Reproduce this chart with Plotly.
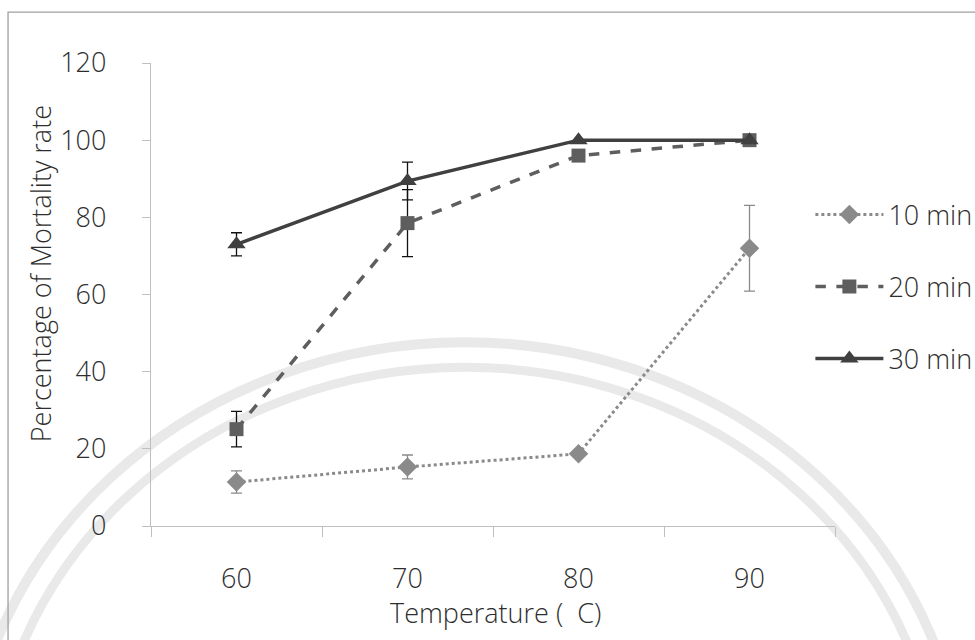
import plotly.graph_objects as go

# Heat treatment: mortality (%) by temperature for three exposure times
temperatures = ["60", "70", "80", "90"]

mort_10 = [11.4, 15.3, 18.7, 72.0]
err_10 = [2.9, 3.1, 0.0, 11.1]

mort_20 = [25.1, 78.5, 96.0, 100.0]
err_20 = [4.6, 8.7, 0.0, 0.0]

mort_30 = [73.0, 89.4, 100.0, 100.0]
err_30 = [3.0, 4.9, 0.0, 0.0]

series_names = ["10 min", "20 min", "30 min"]
y_ticks = [0, 20, 40, 60, 80, 100, 120]

FONT = "Open Sans, Noto Sans, sans-serif"
TEXT = "#2e2e2e"
AXIS = "#bfbfbf"

fig = go.Figure()

fig.add_trace(go.Scatter(
    x=temperatures, y=mort_10, name=series_names[0], legendgroup="a",
    mode="lines+markers",
    line=dict(color="#8a8a8a", width=3, dash="dot"),
    marker=dict(symbol="diamond", size=15, color="#8a8a8a"),
    error_y=dict(type="data", array=err_10, visible=True,
                 color="#8a8a8a", thickness=1.3, width=5.5),
))
fig.add_trace(go.Scatter(
    x=temperatures, y=mort_20, name=series_names[1], legendgroup="b",
    mode="lines+markers",
    line=dict(color="#5e5e5e", width=3.5, dash="dash"),
    marker=dict(symbol="square", size=14, color="#5e5e5e"),
    error_y=dict(type="data", array=err_20, visible=True,
                 color="#111111", thickness=1.3, width=5.5),
))
fig.add_trace(go.Scatter(
    x=temperatures, y=mort_30, name=series_names[2], legendgroup="c",
    mode="lines+markers",
    line=dict(color="#404040", width=3.5),
    marker=dict(symbol="triangle-up", size=16, color="#404040"),
    error_y=dict(type="data", array=err_30, visible=True,
                 color="#111111", thickness=1.3, width=5.5),
))

# faint seal arcs behind the plot
shapes = [
    dict(type="circle", xref="paper", yref="paper", layer="below",
         x0=-0.272, x1=1.190, y0=-1.590, y1=0.397,
         line=dict(color="#e9e9e9", width=10)),
    dict(type="circle", xref="paper", yref="paper", layer="below",
         x0=-0.235, x1=1.154, y0=-1.536, y1=0.343,
         line=dict(color="#e9e9e9", width=9)),
    # chart frame
    dict(type="rect", xref="paper", yref="paper", layer="below",
         x0=-0.209, x1=1.5, y0=-0.5, y1=1.110,
         line=dict(color="#a0a0a0", width=1.3)),
]

fig.update_layout(
    width=975, height=640,
    margin=dict(l=151, r=140, t=63, b=114, autoexpand=False),
    paper_bgcolor="white", plot_bgcolor="rgba(0,0,0,0)",
    font=dict(family=FONT, size=27, color=TEXT, weight=300),
    showlegend=True,
    legend=dict(x=0.964, y=0.725, xanchor="left", yanchor="top",
                bgcolor="rgba(0,0,0,0)", traceorder="grouped",
                itemwidth=68,
                tracegroupgap=34, font=dict(size=27, color=TEXT, weight=300)),
    shapes=shapes,
    annotations=[
        dict(text="Percentage of Mortality rate", xref="paper", yref="paper",
             x=-0.1623, y=0.546, textangle=-90, showarrow=False,
             xanchor="center", yanchor="middle",
             font=dict(family=FONT, size=27, color=TEXT, weight=300)),
        dict(text="Temperature (  C)", xref="paper", yref="paper",
             x=0.504, y=-0.186, showarrow=False,
             xanchor="center", yanchor="middle",
             font=dict(family=FONT, size=27, color=TEXT, weight=300)),
    ],
)

fig.update_xaxes(
    type="category", categoryorder="array", categoryarray=temperatures,
    range=[-0.5, 3.5], tickson="boundaries",
    showline=True, linecolor=AXIS, linewidth=1.3,
    ticks="outside", ticklen=10, tickcolor=AXIS, tickwidth=1.3,
    showgrid=False, zeroline=False, ticklabelstandoff=28,
    tickfont=dict(family=FONT, size=27, color=TEXT, weight=300),
)
fig.update_yaxes(
    range=[0, 120], tickvals=y_ticks,
    showline=True, linecolor=AXIS, linewidth=1.3,
    ticks="outside", ticklen=8, tickcolor=AXIS, tickwidth=1.3,
    showgrid=False, zeroline=False, ticklabelstandoff=30,
    tickfont=dict(family=FONT, size=27, color=TEXT, weight=300),
)

fig.write_html("out.html")
